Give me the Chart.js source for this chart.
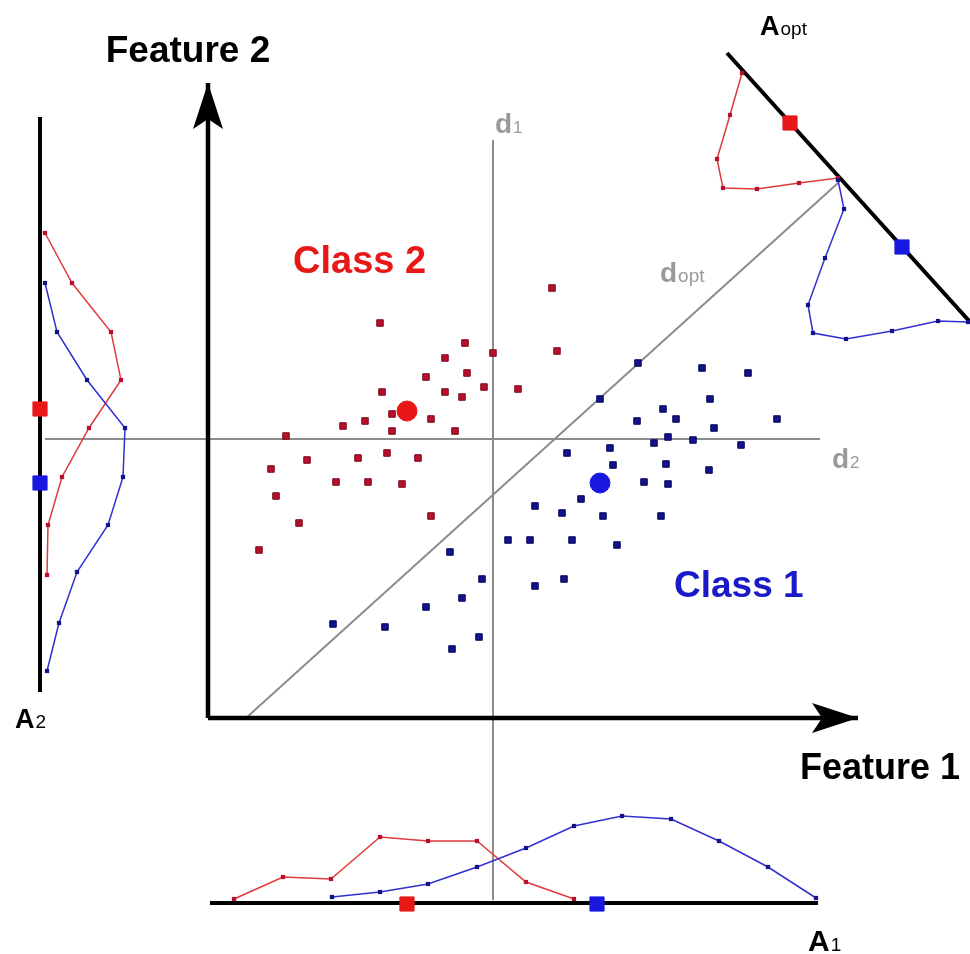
<!DOCTYPE html>
<html>
<head>
<meta charset="utf-8">
<script src="https://cdn.jsdelivr.net/npm/chart.js@4.4.0/dist/chart.umd.min.js"></script>
<style>
  html, body { margin: 0; padding: 0; background: #fff; }
  #wrap { width: 970px; height: 954px; position: relative; }
</style>
</head>
<body>
<div id="wrap"><canvas id="lda"></canvas></div>
<script>
// Feature space: (0,0) is the corner of the Feature 1 / Feature 2 axes.
// All values below.

// class samples
const class2Points = [
  [344,430],[172,395],[257,375],[285,365],[237,360],[349,367],[259,345],[218,341],
  [276,331],[310,329],[174,326],[237,326],[254,321],[184,304],[223,299],[135,292],
  [157,297],[184,287],[247,287],[78,282],[99,258],[150,260],[179,265],[210,260],
  [63,249],[128,236],[160,236],[194,234],[68,222],[223,202],[91,195],[51,168]
];
const class1Points = [
  [430,355],[392,319],[494,350],[540,345],[502,319],[455,309],[468,299],[429,297],
  [569,299],[506,290],[460,281],[485,278],[446,275],[533,273],[359,265],[402,270],
  [405,253],[458,254],[501,248],[436,236],[460,234],[373,219],[327,212],[354,205],
  [395,202],[453,202],[300,178],[322,178],[364,178],[409,173],[242,166],[274,139],
  [356,139],[327,132],[254,120],[218,111],[271,81],[244,69],[125,94],[177,91]
];
const class2Mean = [199, 307];
const class1Mean = [392, 235];

// projection onto A2 (left axis)
const a2Class2 = [[-163,485],[-136,435],[-97,386],[-87,338],[-119,290],[-146,241],[-160,193],[-161,143]];
const a2Class1 = [[-163,435],[-151,386],[-121,338],[-83,290],[-85,241],[-100,193],[-131,146],[-149,95],[-161,47]];
const a2Means = [[-168,309],[-168,235]];

// projection onto A1 (bottom axis)
const a1Class2 = [[26,-181],[75,-159],[123,-161],[172,-119],[220,-123],[269,-123],[318,-164],[366,-181]];
const a1Class1 = [[124,-179],[172,-174],[220,-166],[269,-149],[318,-130],[366,-108],[414,-98],[463,-101],[511,-123],[560,-149],[608,-180]];
const a1Means = [[199,-186],[389,-186]];

// projection onto Aopt (rotated axis, top right)
const aoptClass2 = [[534,645],[522,603],[509,559],[515,530],[549,529],[591,535],[630,540]];
const aoptClass1 = [[630,538],[636,509],[617,460],[600,413],[605,385],[638,379],[684,387],[730,397],[760,396]];
const aoptMeans = [[582,595],[694,471]];

// axes and directions
const feature2Axis = [[0,0],[0,635]];
const feature1Axis = [[0,0],[650,0]];
const a2Axis = [[-168,601],[-168,26]];
const a1Axis = [[2,-185],[610,-185]];
const aoptAxis = [[519,665],[762,396]];
const d1Line = [[285,578],[285,-182]];
const d2Line = [[-163,279],[612,279]];
const doptLine = [[38,0],[630,535]];

const RED = '#e81818', BLUE = '#1818e0';
const RED_DOT = '#b8102c', BLUE_DOT = '#12128a';

const pts = a => a.map(([x, y]) => ({ x, y }));

const lineSet = (data, color, width, order) => ({
  data: pts(data), showLine: true, borderColor: color, borderWidth: width,
  pointRadius: 0, fill: false, tension: 0, order
});
const curveSet = (data, color, dot, order) => ({
  data: pts(data), showLine: true, borderColor: color, borderWidth: 1.5,
  pointStyle: 'rect', pointRadius: 3, backgroundColor: dot, pointBorderColor: dot,
  pointBorderWidth: 0, tension: 0, order
});
const dotSet = (data, fillc, edge, style, r, order) => ({
  data: pts(data), showLine: false, pointStyle: style, pointRadius: r,
  backgroundColor: fillc, pointBorderColor: edge, pointBorderWidth: 1, order
});

const labels = [
  { main: 'Feature 2', x: -20, y: 656, size: 37, color: '#000', align: 'center' },
  { main: 'Feature 1', x: 672, y: -61, size: 36, color: '#000', align: 'center' },
  { main: 'Class 2', x: 85, y: 445, size: 38, color: RED },
  { main: 'Class 1', x: 466, y: 121, size: 37, color: '#1a1ac8' },
  { main: 'd', sub: '1', x: 287, y: 585, size: 28, subSize: 17, color: '#999' },
  { main: 'd', sub: '2', x: 624, y: 250, size: 28, subSize: 17, color: '#999' },
  { main: 'd', sub: 'opt', x: 452, y: 436, size: 28, subSize: 19, color: '#999' },
  { main: 'A', sub: '1', x: 600, y: -233, size: 30, subSize: 19, color: '#000' },
  { main: 'A', sub: '2', x: -193, y: -10, size: 27, subSize: 19, color: '#000' },
  { main: 'A', sub: 'opt', x: 552, y: 683, size: 27, subSize: 19, color: '#000' }
];
const arrows = [feature2Axis, feature1Axis];

const annotate = {
  id: 'annotate',
  afterDatasetsDraw(chart) {
    const { ctx, scales: { x, y } } = chart;
    ctx.save();
    // arrow heads
    ctx.fillStyle = '#000';
    arrows.forEach(([a, b]) => {
      const x0 = x.getPixelForValue(a[0]), y0 = y.getPixelForValue(a[1]);
      const x1 = x.getPixelForValue(b[0]), y1 = y.getPixelForValue(b[1]);
      const ang = Math.atan2(y1 - y0, x1 - x0);
      ctx.save();
      ctx.translate(x1, y1);
      ctx.rotate(ang);
      ctx.beginPath();
      ctx.moveTo(0, 0);
      ctx.lineTo(-46, -15);
      ctx.lineTo(-36, 0);
      ctx.lineTo(-46, 15);
      ctx.closePath();
      ctx.fill();
      ctx.restore();
    });
    // text
    ctx.textBaseline = 'alphabetic';
    labels.forEach(l => {
      const px = x.getPixelForValue(l.x), py = y.getPixelForValue(l.y);
      const ff = '"Liberation Sans", Arial, sans-serif';
      ctx.font = `bold ${l.size}px ${ff}`;
      const w1 = ctx.measureText(l.main).width;
      let w2 = 0;
      if (l.sub) {
        ctx.font = `${l.subSize}px ${ff}`;
        w2 = ctx.measureText(l.sub).width;
      }
      let sx = l.align === 'center' ? px - (w1 + w2) / 2 : px;
      ctx.fillStyle = l.color;
      ctx.textAlign = 'left';
      ctx.font = `bold ${l.size}px ${ff}`;
      ctx.fillText(l.main, sx, py);
      if (l.sub) {
        ctx.font = `${l.subSize}px ${ff}`;
        ctx.fillText(l.sub, sx + w1 + 1, py);
      }
    });
    ctx.restore();
  }
};

new Chart(document.getElementById('lda'), {
  type: 'scatter',
  data: {
    datasets: [
      lineSet(d1Line, '#8c8c8c', 2, 20),
      lineSet(d2Line, '#8c8c8c', 2, 20),
      lineSet(doptLine, '#8c8c8c', 2, 20),
      lineSet(feature2Axis, '#000', 4.5, 15),
      lineSet(feature1Axis, '#000', 4.5, 15),
      lineSet(a2Axis, '#000', 4, 15),
      lineSet(a1Axis, '#000', 4, 15),
      lineSet(aoptAxis, '#000', 4, 15),
      curveSet(a2Class2, '#e03a3a', RED_DOT, 8),
      curveSet(a2Class1, '#3030d0', BLUE_DOT, 7),
      curveSet(a1Class2, '#e03a3a', RED_DOT, 8),
      curveSet(a1Class1, '#3030d0', BLUE_DOT, 7),
      curveSet(aoptClass2, '#e03a3a', RED_DOT, 8),
      curveSet(aoptClass1, '#3030d0', BLUE_DOT, 7),
      dotSet(class2Points, RED_DOT, '#7a0a1c', 'rect', 4.6, 4),
      dotSet(class1Points, BLUE_DOT, '#08085a', 'rect', 4.6, 4),
      dotSet([class2Mean], RED, RED, 'circle', 10, 1),
      dotSet([class1Mean], BLUE, BLUE, 'circle', 10, 1),
      dotSet([a2Means[0], a1Means[0], aoptMeans[0]], RED, RED, 'rect', 10, 1),
      dotSet([a2Means[1], a1Means[1], aoptMeans[1]], BLUE, BLUE, 'rect', 10, 1)
    ]
  },
  options: {
    responsive: true,
    maintainAspectRatio: false,
    animation: false,
    layout: { padding: 0, autoPadding: false },
    plugins: { legend: { display: false }, tooltip: { enabled: false } },
    scales: {
      x: { type: 'linear', min: -208, max: 762, display: false },
      y: { type: 'linear', min: -236, max: 718, display: false }
    }
  },
  plugins: [annotate]
});
</script>
</body>
</html>
